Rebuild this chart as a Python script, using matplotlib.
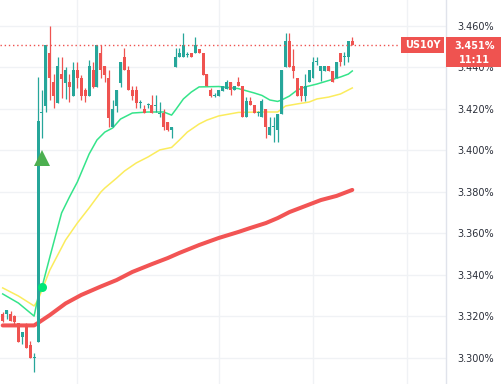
import matplotlib
matplotlib.use("Agg")
import matplotlib.pyplot as plt
import matplotlib.transforms as mtransforms
from matplotlib.patches import Rectangle
from matplotlib.ticker import FixedLocator, FuncFormatter, NullFormatter
import numpy as np

# ---------------- data ----------------
opens = [3.3210, 3.3210, 3.3210, 3.3200, 3.3167, 3.3099, 3.3152, 3.3061, 3.2998, 3.3075,
         3.4180, 3.4214, 3.4470, 3.4330, 3.4228, 3.4368, 3.4325, 3.4330, 3.4262, 3.4388,
         3.4349, 3.4291, 3.4262, 3.4388, 3.4306, 3.4470, 3.4407, 3.4349, 3.4113, 3.4214,
         3.4325, 3.4450, 3.4388, 3.4291, 3.4291, 3.4228, 3.4199, 3.4219, 3.4219, 3.4214,
         3.4175, 3.4180, 3.4137, 3.4098, 3.4402, 3.4450, 3.4450, 3.4460, 3.4470, 3.4470,
         3.4489, 3.4470, 3.4368, 3.4291, 3.4262, 3.4262, 3.4286, 3.4296, 3.4330, 3.4291,
         3.4330, 3.4310, 3.4161, 3.4238, 3.4219, 3.4180, 3.4161, 3.4199, 3.4074, 3.4113,
         3.4098, 3.4175, 3.4402, 3.4528, 3.4407, 3.4349, 3.4310, 3.4262, 3.4330, 3.4349,
         3.4426, 3.4383, 3.4383, 3.4407, 3.4383, 3.4349, 3.4470, 3.4450, 3.4450, 3.4528]
highs = [3.3220, 3.3229, 3.3225, 3.3205, 3.3167, 3.3123, 3.3167, 3.3080, 3.3022, 3.4354,
         3.4291, 3.4508, 3.4600, 3.4368, 3.4450, 3.4450, 3.4402, 3.4368, 3.4426, 3.4426,
         3.4364, 3.4301, 3.4436, 3.4426, 3.4508, 3.4508, 3.4407, 3.4388, 3.4243, 3.4291,
         3.4426, 3.4494, 3.4407, 3.4310, 3.4310, 3.4243, 3.4219, 3.4228, 3.4267, 3.4267,
         3.4233, 3.4199, 3.4137, 3.4113, 3.4494, 3.4494, 3.4566, 3.4475, 3.4470, 3.4547,
         3.4489, 3.4470, 3.4368, 3.4301, 3.4277, 3.4291, 3.4310, 3.4339, 3.4330, 3.4310,
         3.4354, 3.4310, 3.4257, 3.4257, 3.4219, 3.4190, 3.4248, 3.4199, 3.4161, 3.4161,
         3.4175, 3.4388, 3.4566, 3.4566, 3.4489, 3.4349, 3.4310, 3.4368, 3.4388, 3.4450,
         3.4450, 3.4407, 3.4407, 3.4407, 3.4383, 3.4426, 3.4470, 3.4475, 3.4528, 3.4547]
lows = [3.3171, 3.3186, 3.3176, 3.3157, 3.3075, 3.3065, 3.3046, 3.2998, 3.2930, 3.3075,
        3.4059, 3.4185, 3.4243, 3.4204, 3.4228, 3.4253, 3.4248, 3.4233, 3.4262, 3.4301,
        3.4243, 3.4233, 3.4262, 3.4301, 3.4306, 3.4349, 3.4330, 3.4113, 3.4113, 3.4185,
        3.4306, 3.4388, 3.4291, 3.4243, 3.4204, 3.4204, 3.4180, 3.4204, 3.4180, 3.4185,
        3.4161, 3.4098, 3.4093, 3.4059, 3.4402, 3.4450, 3.4450, 3.4450, 3.4450, 3.4470,
        3.4470, 3.4364, 3.4310, 3.4257, 3.4257, 3.4262, 3.4286, 3.4296, 3.4267, 3.4291,
        3.4310, 3.4161, 3.4161, 3.4219, 3.4180, 3.4166, 3.4161, 3.4059, 3.4074, 3.4040,
        3.4040, 3.4175, 3.4402, 3.4402, 3.4349, 3.4262, 3.4238, 3.4238, 3.4330, 3.4349,
        3.4412, 3.4335, 3.4383, 3.4383, 3.4330, 3.4349, 3.4407, 3.4412, 3.4426, 3.4508]
closes = [3.3176, 3.3229, 3.3176, 3.3171, 3.3075, 3.3123, 3.3046, 3.2998, 3.3003, 3.4142,
          3.4185, 3.4508, 3.4349, 3.4262, 3.4407, 3.4344, 3.4388, 3.4306, 3.4388, 3.4349,
          3.4262, 3.4262, 3.4407, 3.4306, 3.4508, 3.4388, 3.4364, 3.4156, 3.4199, 3.4291,
          3.4426, 3.4388, 3.4291, 3.4262, 3.4228, 3.4230, 3.4180, 3.4221, 3.4180, 3.4219,
          3.4180, 3.4113, 3.4098, 3.4113, 3.4450, 3.4470, 3.4508, 3.4465, 3.4450, 3.4508,
          3.4470, 3.4364, 3.4310, 3.4262, 3.4267, 3.4291, 3.4310, 3.4330, 3.4291, 3.4310,
          3.4310, 3.4161, 3.4238, 3.4219, 3.4180, 3.4182, 3.4238, 3.4113, 3.4113, 3.4117,
          3.4175, 3.4388, 3.4528, 3.4402, 3.4383, 3.4262, 3.4262, 3.4310, 3.4388, 3.4426,
          3.4431, 3.4407, 3.4407, 3.4383, 3.4330, 3.4426, 3.4426, 3.4452, 3.4528, 3.4510]

# moving averages: (bar index, value)
ma_fast_idx = [0, 4, 8, 9, 10, 12, 15, 17, 19, 22, 24, 26, 28, 30, 33, 37, 41, 43, 44, 46,
               48, 50, 55, 60, 64, 66, 68, 70, 71, 73, 75, 77, 80, 83, 86, 88, 89]
ma_fast_val = [3.3307, 3.3263, 3.3200, 3.3292, 3.3340, 3.3485, 3.3698, 3.3775, 3.3847, 3.3982,
               3.4050, 3.4088, 3.4108, 3.4151, 3.4180, 3.4185, 3.4185, 3.4170, 3.4195, 3.4248,
               3.4281, 3.4306, 3.4308, 3.4298, 3.4277, 3.4265, 3.4243, 3.4236, 3.4243, 3.4262,
               3.4291, 3.4306, 3.4320, 3.4337, 3.4354, 3.4368, 3.4383]
ma_mid_idx = [0, 4, 8, 9, 10, 12, 16, 19, 22, 25, 26, 29, 31, 34, 37, 40, 43, 45, 47, 50,
              52, 55, 60, 66, 70, 72, 75, 78, 80, 83, 86, 89]
ma_mid_val = [3.3336, 3.3297, 3.3249, 3.3278, 3.3326, 3.3422, 3.3567, 3.3649, 3.3722, 3.3799,
              3.3818, 3.3866, 3.3900, 3.3939, 3.3968, 3.4002, 3.4014, 3.4050, 3.4088, 3.4127,
              3.4146, 3.4166, 3.4183, 3.4185, 3.4185, 3.4214, 3.4224, 3.4233, 3.4248, 3.4257,
              3.4272, 3.4301]
ma_slow_idx = [0, 8, 9, 12, 16, 20, 25, 29, 33, 38, 42, 45, 50, 55, 60, 63, 67, 70, 73, 77,
               81, 85, 89]
ma_slow_val = [3.3155, 3.3155, 3.3167, 3.3205, 3.3261, 3.3302, 3.3343, 3.3374, 3.3413, 3.3451,
               3.3480, 3.3505, 3.3543, 3.3577, 3.3606, 3.3625, 3.3649, 3.3673, 3.3702, 3.3731,
               3.3760, 3.3780, 3.3809]

signal_idx, signal_val = 10, 3.3961     # green up-triangle
cross_idx, cross_val = 10, 3.3340       # green dot

y_ticks = [3.30, 3.32, 3.34, 3.36, 3.38, 3.40, 3.42, 3.44, 3.46]
time_grid_idx = [19, 55, 79, 103]
symbol = "US10Y"
last_price = 3.451
countdown = "11:11"

# ---------------- style ----------------
UP = "#26a69a"
DOWN = "#ef5350"
GRID = "#f0f2f5"
TXT = "#2a2e39"

W, H = 501, 384
fig = plt.figure(figsize=(W / 100, H / 100), dpi=100)
fig.patch.set_facecolor("white")
plot_w = 446
ax = fig.add_axes([0, 0, plot_w / W, 1])
ax.set_facecolor("white")
ax.set_xlim(-0.687, 112.86)
ax.set_ylim(3.28723, 3.47255)

n = len(opens)
x = np.arange(n)
o = np.array(opens); h = np.array(highs); l = np.array(lows); c = np.array(closes)
up = c >= o
colors = np.where(up, UP, DOWN)
bottom = np.minimum(o, c)
height = np.maximum(np.abs(c - o), 0.0005)

ax.vlines(x, l, h, colors=colors, linewidth=0.9, zorder=3)
ax.bar(x, height, bottom=bottom, width=0.76, color=colors, linewidth=0, zorder=4)

ax.plot(ma_slow_idx, ma_slow_val, color="#f25454", linewidth=2.9, solid_capstyle="round", zorder=2)
ax.plot(ma_mid_idx, ma_mid_val, color="#fbec5d", linewidth=1.1, zorder=2)
ax.plot(ma_fast_idx, ma_fast_val, color="#35e48a", linewidth=1.1, zorder=2)

ax.plot([signal_idx], [signal_val], marker="^", markersize=12, color="#4caf50",
        markeredgewidth=0, linestyle="none", zorder=6)
ax.plot([cross_idx], [cross_val], marker="o", markersize=6.5, color="#00e676",
        markeredgewidth=0, linestyle="none", zorder=6)

# last price dotted line
ax.axhline(last_price, xmin=0, xmax=400 / plot_w, color=DOWN, linewidth=1.0,
           linestyle=(0, (1, 2)), zorder=5)

# grid & axes
ax.yaxis.set_major_locator(FixedLocator(y_ticks))
ax.yaxis.set_major_formatter(FuncFormatter(lambda v, p: f"{v:.3f}%"))
ax.yaxis.tick_right()
ax.xaxis.set_major_locator(FixedLocator(time_grid_idx))
ax.xaxis.set_major_formatter(NullFormatter())
ax.tick_params(axis="both", length=0)
ax.tick_params(axis="y", pad=8, labelsize=7, labelcolor=TXT)
ax.grid(True, color=GRID, linewidth=1.0, zorder=0)
ax.set_axisbelow(True)
for s in ["top", "left", "bottom"]:
    ax.spines[s].set_visible(False)
ax.spines["right"].set_color("#e0e3eb")
ax.spines["right"].set_linewidth(1.0)

# labels (drawn in pixel space relative to last price)
ident = mtransforms.IdentityTransform()
py = ax.transData.transform((0, last_price))[1]
fig.add_artist(Rectangle((plot_w, py - 22.4), W - plot_w, 30.0, transform=ident,
                         facecolor=DOWN, edgecolor="none", zorder=10))
fig.add_artist(Rectangle((401, py - 8.4), 43, 16.0, transform=ident,
                         facecolor=DOWN, edgecolor="none", zorder=10))
fig.text(474.5, py - 1.5, f"{last_price:.3f}%", transform=ident, ha="center", va="center",
         color="white", fontsize=7, fontweight="bold", zorder=11)
fig.text(474.5, py - 15.5, countdown, transform=ident, ha="center", va="center",
         color="white", fontsize=7, fontweight="bold", zorder=11)
fig.text(422.5, py - 0.4, symbol, transform=ident, ha="center", va="center",
         color="white", fontsize=7, fontweight="bold", zorder=11)

fig.savefig("out.png", dpi=100, facecolor="white")
